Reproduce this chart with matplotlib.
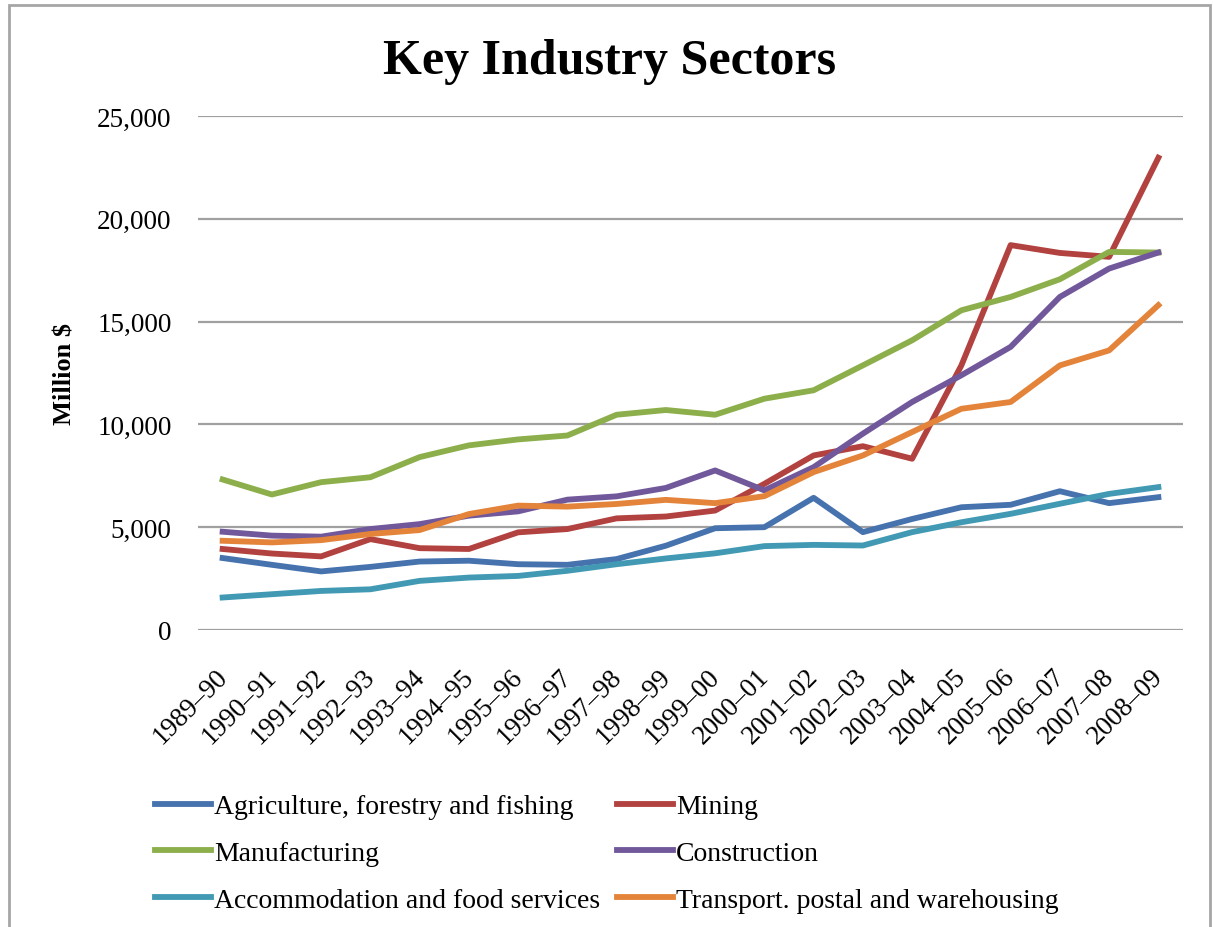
import matplotlib
matplotlib.use("Agg")
import matplotlib.pyplot as plt
import matplotlib.transforms as mtransforms
from matplotlib.patches import Rectangle
from matplotlib.ticker import FuncFormatter

plt.rcParams['font.family'] = ['Liberation Serif', 'DejaVu Serif']

years = ['1989–90', '1990–91', '1991–92', '1992–93', '1993–94', '1994–95',
         '1995–96', '1996–97', '1997–98', '1998–99', '1999–00', '2000–01',
         '2001–02', '2002–03', '2003–04', '2004–05', '2005–06', '2006–07',
         '2007–08', '2008–09']

agriculture = [3500, 3170, 2850, 3070, 3330, 3370, 3200, 3170, 3450, 4100,
               4950, 5000, 6430, 4760, 5400, 5970, 6090, 6750, 6170, 6460]
mining = [3940, 3720, 3580, 4420, 3980, 3940, 4750, 4910, 5430, 5520,
          5810, 7110, 8490, 8940, 8330, 12870, 18720, 18340, 18150, 22970]
manufacturing = [7320, 6590, 7190, 7430, 8410, 8980, 9270, 9460, 10470, 10700,
                 10470, 11250, 11660, 12870, 14090, 15550, 16200, 17060, 18390, 18360]
construction = [4780, 4590, 4540, 4910, 5150, 5560, 5770, 6340, 6500, 6910,
                7760, 6790, 7920, 9550, 11090, 12390, 13770, 16200, 17580, 18360]
accommodation = [1580, 1740, 1900, 1980, 2390, 2550, 2630, 2880, 3200, 3480,
                 3730, 4080, 4140, 4110, 4760, 5240, 5650, 6140, 6620, 6950]
transport = [4340, 4260, 4370, 4670, 4860, 5640, 6050, 6000, 6130, 6330,
             6170, 6510, 7680, 8490, 9630, 10760, 11090, 12870, 13600, 15800]

W, H = 1213, 928
fig = plt.figure(figsize=(W / 100, H / 100), dpi=100)

# outer chart frame (bottom edge cropped off in the reference)
fig.patches.append(Rectangle((9 / W, -0.02), (1210 - 9) / W, (H - 6) / H + 0.02,
                             transform=fig.transFigure, fill=False,
                             edgecolor='#A6A6A6', linewidth=2))

ax = fig.add_axes([198 / W, (H - 631) / H, (1183 - 198) / W, (631 - 117) / H])

x = list(range(len(years)))
lw = 4.2
l_agr, = ax.plot(x, agriculture, color='#4672AE', lw=lw, label='Agriculture, forestry and fishing')
l_min, = ax.plot(x, mining, color='#B2423F', lw=lw, label='Mining')
l_man, = ax.plot(x, manufacturing, color='#8CAF4C', lw=lw, label='Manufacturing')
l_con, = ax.plot(x, construction, color='#71589B', lw=lw, label='Construction')
l_acc, = ax.plot(x, accommodation, color='#4199B3', lw=lw, label='Accommodation and food services')
l_tra, = ax.plot(x, transport, color='#E3843A', lw=lw, label='Transport. postal and warehousing')

ax.set_xlim(-0.5, len(years) - 0.5)
ax.set_ylim(0, 25000)
ax.set_yticks(range(0, 25001, 5000))
ax.yaxis.set_major_formatter(FuncFormatter(lambda v, p: f'{int(v):,}'))
ax.grid(axis='y', color='#A0A0A0', linewidth=1.6)
ax.set_axisbelow(True)
for s in ax.spines.values():
    s.set_visible(False)

ax.set_xticks(x)
ax.set_xticklabels(years, rotation=45, ha='right', rotation_mode='anchor')
ax.tick_params(axis='x', length=0, pad=24, labelsize=19.5)
ax.tick_params(axis='y', length=0, pad=19, labelsize=19.5)
# nudge rotated labels a little to the left
shift = mtransforms.ScaledTranslation(-8 / 100, 0, fig.dpi_scale_trans)
for lab in ax.get_xticklabels():
    lab.set_transform(lab.get_transform() + shift)

ax.set_ylabel('Million $', fontsize=19, fontweight='bold', labelpad=15)

fig.text(610 / W, 1 - 62 / H, 'Key Industry Sectors', ha='center', va='center',
         fontsize=36, fontweight='bold')

# two legend columns placed separately
leg_kw = dict(loc='upper left', frameon=False, fontsize=20, handlelength=2.0,
              handletextpad=0.12, labelspacing=0.76, borderpad=0, borderaxespad=0)
leg1 = fig.legend(handles=[l_agr, l_man, l_acc], bbox_to_anchor=(155 / W, 1 - 795 / H), **leg_kw)
leg2 = fig.legend(handles=[l_min, l_con, l_tra], bbox_to_anchor=(617 / W, 1 - 795 / H), **leg_kw)

fig.savefig('out.png', dpi=100)
